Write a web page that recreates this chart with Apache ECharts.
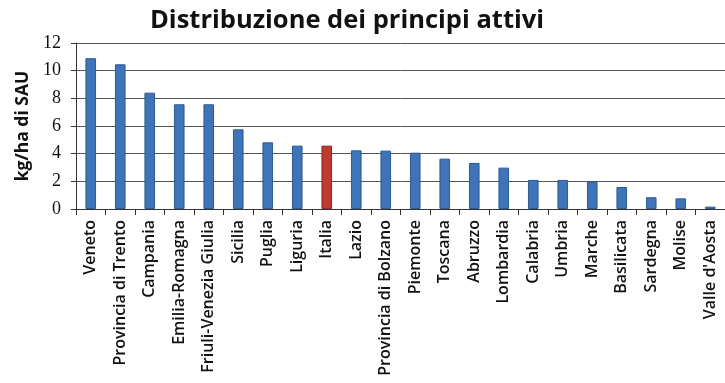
<!DOCTYPE html>
<html><head><meta charset="utf-8">
<script src="https://cdn.jsdelivr.net/npm/echarts@6/dist/echarts.min.js"></script>
<style>html,body{margin:0;padding:0;background:#fff}#c{width:725px;height:383px}</style>
</head><body><div id="c"></div>
<script>
const categories = ["Veneto","Provincia di Trento","Campania","Emilia-Romagna","Friuli-Venezia Giulia","Sicilia","Puglia","Liguria","Italia","Lazio","Provincia di Bolzano","Piemonte","Toscana","Abruzzo","Lombardia","Calabria","Umbria","Marche","Basilicata","Sardegna","Molise","Valle d'Aosta"];
const values = [10.9,10.46,8.41,7.57,7.57,5.76,4.82,4.58,4.58,4.24,4.22,4.07,3.64,3.33,2.99,2.1,2.1,1.98,1.59,0.85,0.77,0.17];
const highlight = "Italia";
const yTicks = [0,2,4,6,8,10,12];

const chart = echarts.init(document.getElementById('c'));
chart.setOption({
  animation:false,
  title:{text:"Distribuzione dei principi attivi",left:342,textAlign:'center',top:3,
    textStyle:{fontFamily:"Open Sans",fontWeight:'bold',fontSize:25.5,color:'#111'}},
  grid:{left:76,top:43,right:-3,height:166},
  xAxis:{type:'category',data:categories,
    axisLine:{lineStyle:{color:'#333',width:1}},
    axisTick:{show:true,length:6,lineStyle:{color:'#333'}},
    axisLabel:{rotate:90,interval:0,fontFamily:"Open Sans",fontWeight:600,fontSize:16,color:'#111',margin:11}},
  yAxis:{type:'value',min:yTicks[0],max:yTicks[yTicks.length-1],interval:2,
    name:"kg/ha di SAU",nameLocation:'middle',nameGap:44,nameRotate:90,
    nameTextStyle:{fontFamily:"Open Sans",fontWeight:'bold',fontSize:17.5,color:'#111'},
    axisLine:{show:true,lineStyle:{color:'#333'}},
    axisTick:{show:true,length:5,lineStyle:{color:'#333'}},
    splitLine:{lineStyle:{color:'#555',width:1}},
    axisLabel:{fontFamily:"Liberation Serif",fontSize:18,color:'#111',margin:15}},
  series:[{type:'bar',barCategoryGap:'64%',
    data:values.map((v,i)=>({value:v,itemStyle:{color:categories[i]===highlight?'#c0392f':'#3f74b8',
      borderColor:categories[i]===highlight?'#8a2a22':'#2c5a92',borderWidth:1}}))}]
});
</script></body></html>
